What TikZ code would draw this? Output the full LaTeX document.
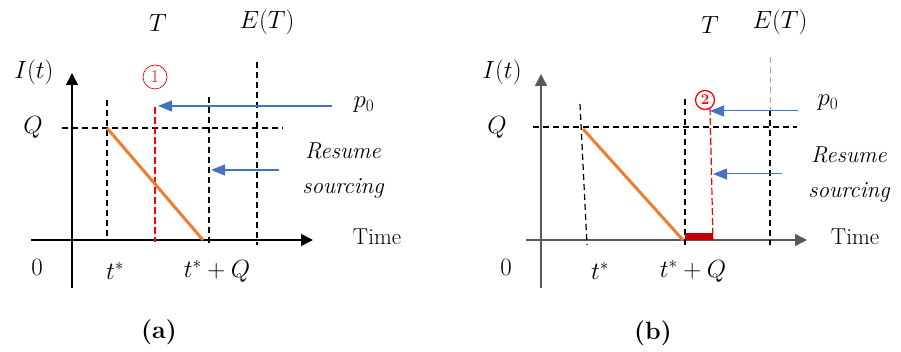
\documentclass[tikz,border=0pt]{standalone}
\usepackage{fontspec}
\usepackage{tikz}
\usetikzlibrary{arrows.meta, positioning}
\definecolor{OR}{RGB}{237,125,49}
\definecolor{BL}{RGB}{68,114,196}
\definecolor{DR}{RGB}{192,0,0}
\definecolor{GA}{RGB}{89,89,89}
\definecolor{LGa}{RGB}{166,166,166}

\begin{document}
\begin{tikzpicture}[x=1pt, y=-1pt,
  axis/.style={line width=1.4pt, draw=#1, -{Triangle[length=12pt, width=12pt]}},
  axis/.default=black,
  guide/.style={line width=1.2pt, dash pattern=on 6pt off 4pt},
  redguide/.style={guide, draw=red, dash pattern=on 7pt off 3pt},
  decline/.style={draw=OR, line width=3pt},
  pointer/.style={draw=BL, line width=1.3pt, -{Triangle[length=14pt, width=11pt]}},
  lbl/.style={font=\fontsize{23}{28}\selectfont, inner sep=0pt},
  panelcap/.style={font=\fontsize{25}{28}\selectfont\bfseries, inner sep=0pt},
  circmark/.style={draw=red, text=red, circle, line width=0.7pt, inner sep=0pt,
                   minimum size=#1, font=\fontsize{18}{18}\selectfont},
  circmark/.default=24pt
]
\useasboundingbox (0,0) rectangle (901,352);

% ---------- panel (a) ----------
\draw[axis] (31,240) -- (313,240);
\draw[axis] (72,288) -- (72,73);
\draw[guide] (62,128) -- (283,128);
\draw[guide] (107,100) -- (107,240);
\draw[guide] (209,97) -- (209,245);
\draw[guide] (257,62) -- (257,245);
\draw[redguide] (155,107) -- (155,242);
\draw[decline] (107,128) -- (203,240);

\node[lbl] (Ta)  at (158,23)  {$T$};
\node[lbl] (ETa) at (267,22)  {$E(T)$};
\node[lbl] (Ia)  at (34,72)   {$I(t)$};
\node[lbl] (Qa)  at (33,127)  {$Q$};
\node[lbl] (Za)  at (37,267)  {$0$};
\node[lbl] (tsa) at (115,271) {$t^{*}$};
\node[lbl] (tqa) at (217,271) {$t^{*}+Q$};
\node[lbl] (tma) at (377,237) {Time};
\node[lbl] (pa)  at (364,105) {$p_0$};
\node[lbl, align=center] (ra) at (343,170) {\itshape Resume\\[7pt]\itshape sourcing};
\node[circmark] (ma) at (155,77) {1};
\node[panelcap] (capa) at (159,332) {(a)};

% pointers of (a)
\coordinate (pa0) at (332,106);
\coordinate (pa1) at (158,106);
\coordinate (ra0) at (279,170);
\coordinate (ra1) at (211,170);
\draw[pointer] (pa0) -- (pa1);
\draw[pointer] (ra0) -- (ra1);

% ---------- panel (b) ----------
\draw[axis=GA] (526,240) -- (807,240);
\draw[axis=GA] (541,288) -- (541,74);
\draw[guide] (533,127) -- (797,127);
\draw[guide] (580,104) -- (587,245);
\draw[guide] (685,99) -- (685,245);
\draw[guide, draw=LGa, line width=0.8pt] (770,57) -- (770,110);
\draw[guide] (770,110) -- (770,245);
\draw[redguide] (710,108) -- (713,240);
\draw[decline] (583,129) -- (683,240);
\fill[DR] (685,233) rectangle (713,240);

\node[lbl] (Tb)  at (710,25)  {$T$};
\node[lbl] (ETb) at (780,22)  {$E(T)$};
\node[lbl] (Ib)  at (502,72)  {$I(t)$};
\node[lbl] (Qb)  at (497,127) {$Q$};
\node[lbl] (Zb)  at (506,267) {$0$};
\node[lbl] (tsb) at (600,271) {$t^{*}$};
\node[lbl] (tqb) at (693,271) {$t^{*}+Q$};
\node[lbl] (tmb) at (855,237) {Time};
\node[lbl] (pb)  at (828,103) {$p_0$};
\node[lbl, align=center] (rb) at (849,174) {\itshape Resume\\[7pt]\itshape sourcing};
\node[circmark=19pt, line width=1.3pt, font=\fontsize{15}{15}\selectfont\bfseries] (mb) at (705,100) {2};
\node[panelcap] (capb) at (653,333) {(b)};

% pointers of (b)
\coordinate (pb0) at (798,111);
\coordinate (pb1) at (710,111);
\coordinate (rb0) at (782,174);
\coordinate (rb1) at (713,174);
\draw[pointer, line width=1pt] (pb0) -- (pb1);
\draw[pointer, line width=1pt] (rb0) -- (rb1);
\end{tikzpicture}
\end{document}
